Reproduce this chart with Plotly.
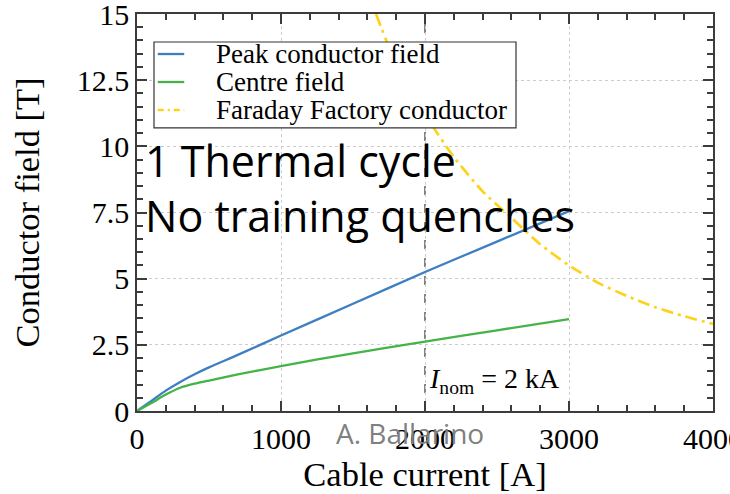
import plotly.graph_objects as go

# colours / fonts
BLUE = "#3d7fc1"
GREEN = "#45b347"
GOLD = "#ffd21a"
AXIS = "#3c3c3c"
GRID = "#cccccc"
SERIF = "Liberation Serif, Times New Roman, serif"
SANS = "Open Sans, Noto Sans, sans-serif"

# data
current = [0, 100, 200, 300, 400, 500, 700, 1000, 1500, 2000, 2500, 3000]
peak_field = [0, 0.38, 0.77, 1.1, 1.39, 1.65, 2.12, 2.85, 4.05, 5.25, 6.4, 7.55]
centre_field = [0, 0.3, 0.62, 0.88, 1.03, 1.15, 1.38, 1.7, 2.18, 2.62, 3.05, 3.47]

ff_current = [1660, 1800, 2000, 2200, 2400, 2600, 2800, 3000, 3200, 3400, 3600, 3800, 4000]
ff_field = [15.0, 13.1, 11.2, 9.6, 8.3, 7.3, 6.3, 5.5, 4.85, 4.35, 3.92, 3.58, 3.29]

I_NOM = 2000
y_ticks = [0, 2.5, 5, 7.5, 10, 12.5, 15]
y_ticktext = ["0", "2.5", "5", "7.5", "10", "12.5", "15"]
x_ticks = [0, 1000, 2000, 3000, 4000]

series = [
    ("Peak conductor field", current, peak_field, BLUE, "solid", 2.3),
    ("Centre field", current, centre_field, GREEN, "solid", 2.3),
    ("Faraday Factory conductor", ff_current, ff_field, GOLD, "12px,5px,3px,5px", 2.7),
]

fig = go.Figure()
for name, xs, ys, color, dash, lw in series:
    fig.add_trace(go.Scatter(x=xs, y=ys, mode="lines", name=name, showlegend=False,
                             line=dict(color=color, width=lw, dash=dash, shape="spline", smoothing=0.6)))

fig.add_vline(x=I_NOM, line=dict(color="#333333", width=1.2, dash="dash"), layer="below")

# legend drawn by hand so the box matches the compact original
fig.add_shape(type="rect", xref="paper", yref="paper", x0=0.0295, x1=0.658, y0=0.713, y1=0.9295,
              line=dict(color="#333333", width=1.2), fillcolor="white", layer="above")
for i, (name, xs, ys, color, dash, lw) in enumerate(series):
    yy = 0.8992 - i * 0.0705
    fig.add_shape(type="line", xref="paper", yref="paper", x0=0.036, x1=0.082, y0=yy, y1=yy,
                  line=dict(color=color, width=lw, dash="6px,4px,2px,4px" if dash != "solid" else "solid"),
                  layer="above")
    fig.add_annotation(x=0.134, y=yy, xref="paper", yref="paper", xanchor="left", yanchor="middle",
                       text=name, showarrow=False, font=dict(family=SERIF, size=27, color="black"))

fig.add_annotation(x=I_NOM, y=1.17, xref="x", yref="y", xanchor="left", yanchor="middle",
                   text="<i>I</i><sub>nom</sub> = 2 kA", showarrow=False, xshift=2,
                   font=dict(family=SERIF, size=28, color="black"))
fig.add_annotation(x=0, y=9.48, xref="x", yref="y", xanchor="left", yanchor="middle",
                   text="1 Thermal cycle", showarrow=False, xshift=6,
                   font=dict(family=SANS, size=43, color="black"))
fig.add_annotation(x=0, y=7.4, xref="x", yref="y", xanchor="left", yanchor="middle",
                   text="No training quenches", showarrow=False, xshift=6,
                   font=dict(family=SANS, size=43, color="black"))
fig.add_annotation(x=0.474, y=-0.108, xref="paper", yref="paper", text="A. Ballarino", showarrow=False,
                   font=dict(family=SANS, size=28, color="#808080"))

axis_common = dict(
    showline=True, linecolor=AXIS, linewidth=1.5, mirror="allticks",
    ticks="inside", ticklen=10, tickwidth=1.5, tickcolor=AXIS,
    showgrid=True, gridcolor=GRID, griddash="dot", gridwidth=1,
    zeroline=False, automargin=False, ticklabeloverflow="allow",
    tickfont=dict(family=SERIF, size=30, color="black"),
    title_font=dict(family=SERIF, size=34.5, color="black"),
)

fig.update_xaxes(range=[0, 4000], tickvals=x_ticks, title_text="Cable current [A]", title_standoff=0,
                 minor=dict(dtick=200, ticks="inside", ticklen=6, tickcolor=AXIS, showgrid=False),
                 **axis_common)
fig.update_yaxes(range=[0, 15], tickvals=y_ticks, ticktext=y_ticktext, title_text="Conductor field [T]",
                 title_standoff=27,
                 minor=dict(dtick=0.5, ticks="inside", ticklen=6, tickcolor=AXIS, showgrid=False),
                 **axis_common)

fig.update_layout(
    width=730, height=494,
    margin=dict(l=137, r=17, t=14, b=83),
    plot_bgcolor="white", paper_bgcolor="white",
    showlegend=False,
)

fig.write_html("out.html", config={"displayModeBar": False},
               post_script="document.body.style.margin='0';")
